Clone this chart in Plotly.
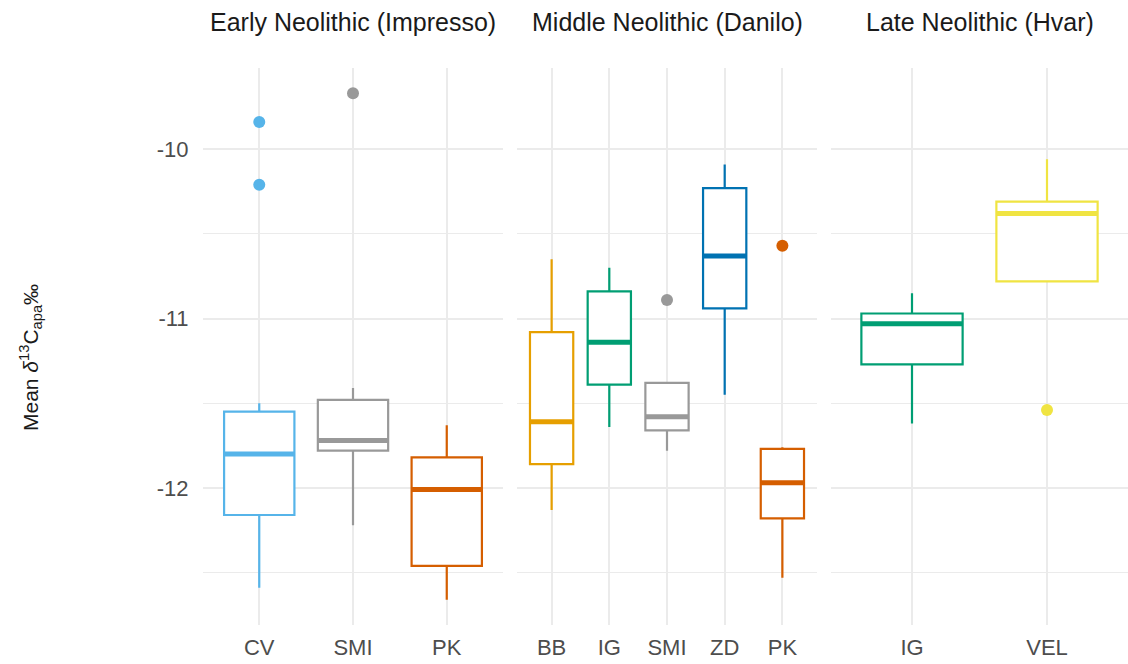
import plotly.graph_objects as go

# Facets (archaeological periods) and the site boxes drawn in each
periods = ["Early Neolithic (Impresso)", "Middle Neolithic (Danilo)", "Late Neolithic (Hvar)"]
box_period = [0, 0, 0, 1, 1, 1, 1, 1, 2, 2]
box_site = ["CV", "SMI", "PK", "BB", "IG", "SMI", "ZD", "PK", "IG", "VEL"]

# Box statistics of mean δ13C (apatite), ‰
lower_whisker = [-12.59, -12.22, -12.66, -12.13, -11.64, -11.78, -11.45, -12.53, -11.62, -10.78]
q1 = [-12.16, -11.78, -12.46, -11.86, -11.39, -11.66, -10.94, -12.18, -11.27, -10.78]
median = [-11.80, -11.72, -12.01, -11.61, -11.14, -11.58, -10.63, -11.97, -11.03, -10.38]
q3 = [-11.55, -11.48, -11.82, -11.08, -10.84, -11.38, -10.23, -11.77, -10.97, -10.31]
upper_whisker = [-11.50, -11.41, -11.63, -10.65, -10.70, -11.38, -10.09, -11.76, -10.85, -10.06]

# Outlying individuals
outlier_period = [0, 0, 0, 1, 1, 2]
outlier_site = ["CV", "CV", "SMI", "SMI", "PK", "VEL"]
outlier_value = [-9.84, -10.21, -9.67, -10.89, -10.57, -11.54]

# y-axis ticks
y_ticks = [-12, -11, -10]

site_colors = {
    "CV": "#56B4E9", "SMI": "#999999", "PK": "#D55E00", "BB": "#E69F00",
    "IG": "#009E73", "ZD": "#0072B2", "VEL": "#F0E442",
}

W, H = 1128, 664
FONT = "Liberation Sans, Arial, sans-serif"
BOX_W = 0.75
GRID = "#EBEBEB"
TICK_SIZE = 22

# panel placement in pixels
panel_x = [(203, 503), (517, 817), (831, 1128)]
panel_top, panel_bottom = 68, 625

fig = go.Figure()

# categories per facet, in drawing order
facet_sites = [[s for s, p in zip(box_site, box_period) if p == k] for k in range(len(periods))]


def axis_suffix(k):
    return "" if k == 0 else str(k + 1)


for i, (site, p) in enumerate(zip(box_site, box_period)):
    pos = facet_sites[p].index(site)
    c = site_colors[site]
    sfx = axis_suffix(p)
    fig.add_trace(go.Box(
        x=[pos], q1=[q1[i]], median=[median[i]], q3=[q3[i]],
        lowerfence=[lower_whisker[i]], upperfence=[upper_whisker[i]],
        width=BOX_W, whiskerwidth=0, boxpoints=False,
        fillcolor="white", line=dict(color=c, width=2.2),
        xaxis="x" + sfx, yaxis="y" + sfx, showlegend=False,
    ))
    # thicker median bar
    fig.add_trace(go.Scatter(
        x=[pos - BOX_W / 2, pos + BOX_W / 2], y=[median[i], median[i]],
        mode="lines", line=dict(color=c, width=5),
        xaxis="x" + sfx, yaxis="y" + sfx, showlegend=False, hoverinfo="skip",
    ))

for site, p, v in zip(outlier_site, outlier_period, outlier_value):
    pos = facet_sites[p].index(site)
    sfx = axis_suffix(p)
    fig.add_trace(go.Scatter(
        x=[pos], y=[v], mode="markers",
        marker=dict(color=site_colors[site], size=12, line=dict(width=0)),
        xaxis="x" + sfx, yaxis="y" + sfx, showlegend=False,
    ))

# y range: data extent expanded by 5%
all_vals = lower_whisker + upper_whisker + outlier_value
lo, hi = min(all_vals), max(all_vals)
pad = 0.05 * (hi - lo)
y_range = [lo - pad, hi + pad]

y_dom = [1 - panel_bottom / H, 1 - panel_top / H]
layout = dict(
    width=W, height=H,
    margin=dict(l=0, r=0, t=0, b=0),
    paper_bgcolor="white", plot_bgcolor="white",
    font=dict(family=FONT, color="#4D4D4D"),
)

for k in range(len(periods)):
    sfx = axis_suffix(k)
    n = len(facet_sites[k])
    x0, x1 = panel_x[k]
    layout["xaxis" + sfx] = dict(
        domain=[x0 / W, x1 / W], anchor="y" + sfx,
        range=[-0.6, n - 1 + 0.6],
        tickvals=list(range(n)), ticktext=facet_sites[k],
        showgrid=True, gridcolor=GRID, gridwidth=1.5,
        zeroline=False, showline=False,
        ticks="outside", ticklen=3, tickcolor="rgba(0,0,0,0)",
        tickfont=dict(size=TICK_SIZE, color="#4D4D4D", family=FONT),
        fixedrange=True,
    )
    layout["yaxis" + sfx] = dict(
        domain=y_dom, anchor="x" + sfx, range=y_range,
        tickvals=y_ticks, ticktext=[str(t) for t in y_ticks],
        showgrid=True, gridcolor=GRID, gridwidth=2,
        minor=dict(dtick=0.5, tick0=-10, showgrid=True, gridcolor=GRID, gridwidth=1, ticks=""),
        zeroline=False, showline=False,
        showticklabels=(k == 0),
        ticks="outside" if k == 0 else "", ticklen=9, tickcolor="rgba(0,0,0,0)",
        tickfont=dict(size=TICK_SIZE, color="#4D4D4D", family=FONT),
        fixedrange=True,
    )
    if k > 0:
        layout["yaxis" + sfx]["matches"] = "y"

annotations = []
for k, title in enumerate(periods):
    x0, x1 = panel_x[k]
    annotations.append(dict(
        text=title, x=(x0 + x1) / 2 / W, y=1 - 22 / H, xref="paper", yref="paper",
        xanchor="center", yanchor="middle", showarrow=False,
        font=dict(size=25, color="#1A1A1A", family=FONT),
    ))
annotations.append(dict(
    text="Mean <i>δ</i><sup>13</sup>C<sub>apa</sub>‰",
    x=30 / W, y=1 - 358 / H, xref="paper", yref="paper",
    xanchor="center", yanchor="middle", textangle=-90, showarrow=False,
    font=dict(size=21, color="#1A1A1A", family=FONT),
))
layout["annotations"] = annotations

fig.update_layout(**layout)
fig.write_html("out.html")
